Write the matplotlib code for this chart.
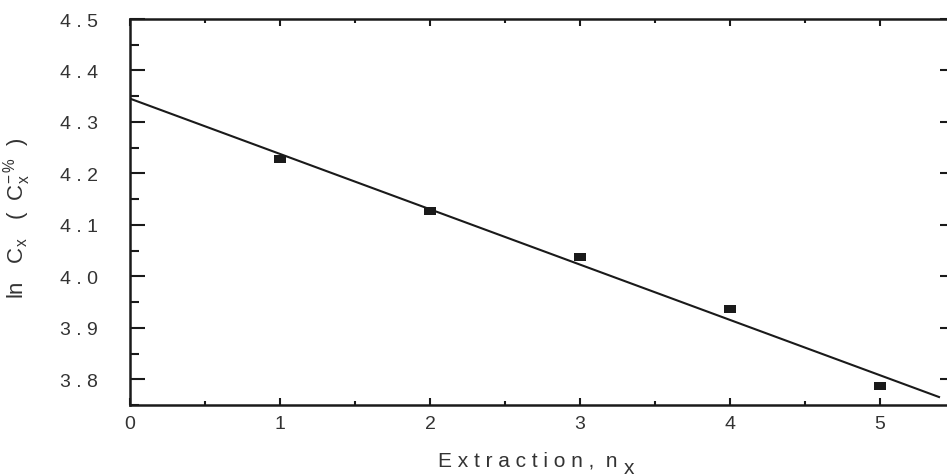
import numpy as np
import matplotlib
matplotlib.use('Agg')
import matplotlib.pyplot as plt
from matplotlib.ticker import MultipleLocator, FixedLocator

# data
extraction = [1, 2, 3, 4, 5]
ln_cx = [4.228, 4.127, 4.037, 3.936, 3.786]
y_ticks = [3.8, 3.9, 4.0, 4.1, 4.2, 4.3, 4.4, 4.5]
y_tick_labels = ['3 . 8', '3 . 9', '4 . 0', '4 . 1',
                 '4 . 2', '4 . 3', '4 . 4', '4 . 5']
x_ticks = [0, 1, 2, 3, 4, 5]

plt.rcParams['font.family'] = ['Liberation Sans', 'DejaVu Sans']
plt.rcParams['mathtext.fontset'] = 'custom'
plt.rcParams['mathtext.rm'] = 'Liberation Sans'
plt.rcParams['mathtext.it'] = 'Liberation Sans'

W, H = 947, 477
fig = plt.figure(figsize=(W / 100, H / 100), dpi=100)
ax = fig.add_axes([130 / W, 71 / H, 825 / W, 386 / H])

# linear fit through the points
slope, icpt = np.polyfit(extraction, ln_cx, 1)
xf = np.array([0, 5.4])
ax.plot(xf, icpt + slope * xf, color='#1a1a1a', lw=1.5, solid_capstyle='butt')

rect = [(-1, -0.62), (1, -0.62), (1, 0.62), (-1, 0.62), (-1, -0.62)]
ax.plot(extraction, ln_cx, ls='none', marker=rect, markersize=9,
        color='#1a1a1a', markeredgewidth=0)

ax.set_xlim(0, 5.5)
ax.set_ylim(3.75, 4.5)

ax.xaxis.set_major_locator(FixedLocator(x_ticks))
ax.xaxis.set_minor_locator(MultipleLocator(0.5))
ax.yaxis.set_major_locator(FixedLocator(y_ticks))
ax.yaxis.set_minor_locator(MultipleLocator(0.05))
ax.set_yticklabels(y_tick_labels)

for s in ax.spines.values():
    s.set_linewidth(1.8)
    s.set_color('#1a1a1a')

ax.tick_params(axis='both', which='both', direction='in', color='#1a1a1a',
               width=1.5, labelsize=14, labelcolor='#333333')
ax.tick_params(axis='y', which='major', length=11, pad=23, right=True)
ax.tick_params(axis='y', which='minor', length=6.5, right=False)
ax.tick_params(axis='x', which='major', length=5, pad=7, top=True)
ax.tick_params(axis='x', which='minor', length=3, top=True)

# axis titles
fig.text(438 / W, (H - 467) / H, 'E x t r a c t i o n ,  n', fontsize=15,
         color='#333333', ha='left', va='baseline')
fig.text(624 / W, (H - 474) / H, 'x', fontsize=15, color='#333333',
         ha='left', va='baseline')
fig.text(17 / W, 1 - 218 / H,
         r'ln   C$_\mathregular{x}$   (  C$_\mathregular{x}^\mathregular{-\,\%}$  )',
         fontsize=16, color='#333333', rotation=90, ha='center', va='center')

fig.savefig('out.png', dpi=100)
